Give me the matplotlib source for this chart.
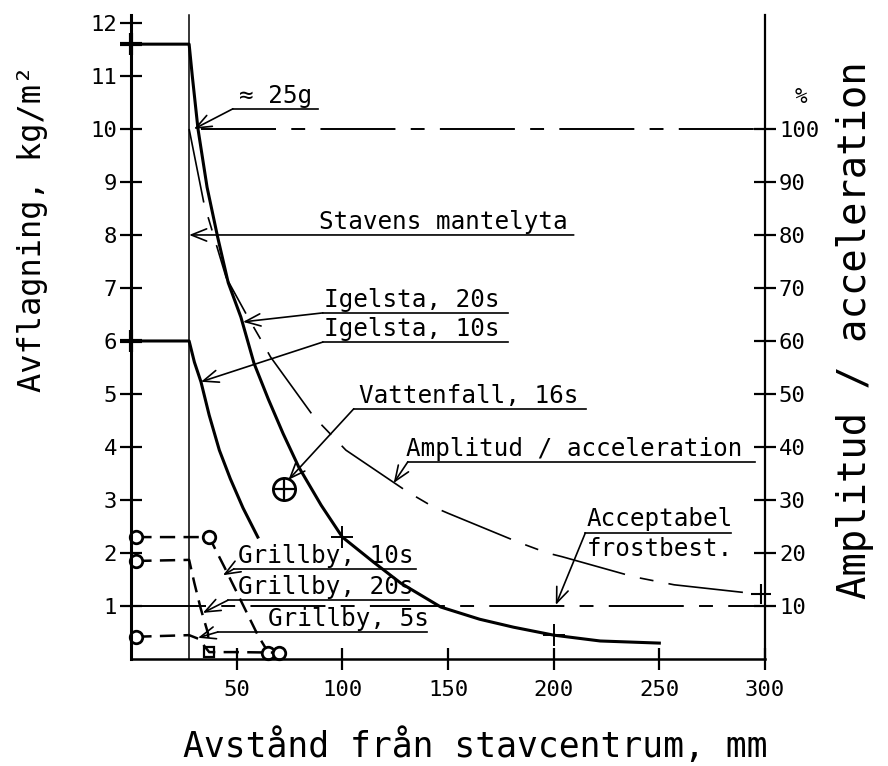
import matplotlib
matplotlib.use('Agg')
import matplotlib.pyplot as plt

plt.rcParams['font.family'] = ['DejaVu Sans Mono', 'DejaVu Sans']
plt.rcParams['lines.scale_dashes'] = False
plt.rcParams['lines.solid_joinstyle'] = 'round'

# radius of the rod (stavens mantelyta), mm
rod_x = 27.5

# Igelsta, 20s  (kg/m2 against distance from rod centre, mm)
igelsta20_x = [0, 27.5, 29, 31.7, 36, 41, 46, 52, 58.2, 65, 72, 79.4, 90, 100,
               115, 127.7, 146.6, 165, 181, 200, 222, 250]
igelsta20_y = [11.6, 11.6, 11.0, 10.0, 8.9, 7.96, 7.1, 6.45, 5.58, 4.9, 4.25, 3.62, 2.9, 2.3,
               1.82, 1.43, 0.98, 0.75, 0.6, 0.45, 0.34, 0.3]

# Igelsta, 10s
igelsta10_x = [0, 27.5, 30, 33.1, 37, 41.8, 47, 53, 60]
igelsta10_y = [6.0, 6.0, 5.6, 5.23, 4.6, 3.94, 3.4, 2.85, 2.3]

# Grillby series (dashed)
grillby10_x = [2.5, 37, 44, 52, 60, 65]
grillby10_y = [2.3, 2.3, 1.75, 1.1, 0.45, 0.12]
grillby20_x = [2.5, 27.5, 30, 33, 36.4, 37]
grillby20_y = [1.85, 1.87, 1.43, 0.95, 0.49, 0.13]
grillby5_x = [2.5, 27.5, 32, 37, 50, 70]
grillby5_y = [0.42, 0.45, 0.38, 0.13, 0.13, 0.12]

# Vattenfall, 16s (single point)
vattenfall_x = [72.5]
vattenfall_y = [3.2]

# amplitude / acceleration, %
ampl_x = [27.5, 34.5, 45, 55.3, 62.4, 66, 86.5, 101.7, 131, 143, 150, 183.5, 197,
          204, 238, 257, 298]
ampl_pct = [100, 86, 72, 64.5, 59.6, 57, 45.7, 39.4, 31.5, 28.7, 27.5, 22, 20,
            19.3, 15.5, 14, 12.2]

# reference levels, %
level_25g = 100
level_frost = 10

xticks = [50, 100, 150, 200, 250, 300]
yticks = list(range(1, 13))
pct_ticks = list(range(10, 101, 10))

phantom = (0, (54, 11, 10, 11))
grill_dash = (0, (11, 6))

fig = plt.figure(figsize=(8.88, 7.66), dpi=100)
ax = fig.add_axes([131/888, 1 - 659/766, (765 - 131)/888, (659 - 15)/766])
ax.set_xlim(0, 300)
ax.set_ylim(0, 12.15)
ax2 = ax.twinx()
ax2.set_ylim(0, 121.5)

for a in (ax, ax2):
    a.spines['top'].set_visible(False)
ax.spines['right'].set_visible(False)
ax2.spines['left'].set_visible(False)
ax.spines['left'].set_linewidth(2.2)
ax.spines['bottom'].set_linewidth(1.8)
ax2.spines['right'].set_linewidth(1.6)
ax2.spines['bottom'].set_visible(False)

ax.set_xticks(xticks)
ax.set_yticks(yticks)
ax2.set_yticks(pct_ticks)
ax.tick_params(axis='both', direction='inout', length=16, width=1.6, labelsize=16)
ax.tick_params(axis='y', pad=2)
ax.tick_params(axis='x', pad=7)
ax2.tick_params(axis='y', direction='inout', length=16, width=1.6, labelsize=16, pad=2)

# rod surface
ax.plot([rod_x, rod_x], [0, 12.15], color='k', lw=1.1, clip_on=False)

# reference levels on the percent scale
ax2.plot([33, 300], [level_25g, level_25g], color='k', lw=1.4, linestyle=phantom)
ax2.plot([0, 300], [level_frost, level_frost], color='k', lw=1.4, linestyle=phantom)

# amplitude / acceleration curve
ax2.plot(ampl_x, ampl_pct, color='k', lw=1.2, linestyle=phantom)
ax2.plot(ampl_x[-1:], ampl_pct[-1:], '+', color='k', ms=15, mew=1.5, clip_on=False)

# Igelsta curves
ax.plot(igelsta20_x, igelsta20_y, color='k', lw=2.2)
ax.plot(igelsta10_x, igelsta10_y, color='k', lw=2.2)
ax.plot([igelsta20_x[0], igelsta10_x[0]], [igelsta20_y[0], igelsta10_y[0]], '+',
        color='k', ms=16, mew=3, clip_on=False)
ax.plot([100, 200], [igelsta20_y[13], igelsta20_y[19]], '+', color='k', ms=16, mew=1.4)

# Grillby curves
circ = dict(marker='o', ms=9, mfc='white', mec='k', mew=2, clip_on=False)
ax.plot(grillby10_x, grillby10_y, color='k', lw=1.8, linestyle=grill_dash,
        markevery=[0, 1, 5], **circ)
ax.plot(grillby20_x, grillby20_y, color='k', lw=1.8, linestyle=grill_dash,
        markevery=[0], **circ)
ax.plot(grillby20_x[-1:], grillby20_y[-1:], 's', ms=7, mfc='white', mec='k', mew=1.6)
ax.plot(grillby5_x, grillby5_y, color='k', lw=1.8, linestyle=grill_dash,
        markevery=[0, 5], **circ)

# Vattenfall
ax.plot(vattenfall_x, vattenfall_y, 'o', ms=16, mfc='none', mec='k', mew=2)
ax.plot(vattenfall_x, vattenfall_y, '+', ms=16, mec='k', mew=1.6)

arrow = dict(arrowstyle='->,head_length=0.5,head_width=0.2', lw=1.2, color='k',
             shrinkA=0, shrinkB=0, mutation_scale=22)
fs = 17.5

# labels: text, text position, underline start/end, arrow tip
notes = [
    ('\u2248 25g', (51.1, 10.49), (48.2, 88.4, 10.38), (29.8, 10.0)),
    ('Igelsta, 20s', (91.3, 6.64), (90.8, 178.3, 6.53), (53.0, 6.36)),
    ('Igelsta, 10s', (91.3, 6.09), (90.8, 178.3, 5.98), (33.1, 5.23)),
    ('Vattenfall, 16s', (107.8, 4.83), (105.4, 215.1, 4.72), (74.5, 3.38)),
    ('Amplitud / acceleration', (130.0, 3.83), (131.0, 295.5, 3.72), (124.3, 3.32)),
    ('Acceptabel', (215.6, 2.51), (215.0, 283.7, 2.38), (201.0, 1.02)),
    ('Grillby, 10s', (50.6, 1.81), (48.7, 134.8, 1.70), (43.5, 1.58)),
    ('Grillby, 20s', (50.6, 1.23), (45.9, 131.4, 1.11), (34.0, 0.87)),
    ('Grillby, 5s', (64.8, 0.62), (41.1, 140.0, 0.51), (31.7, 0.40)),
]
for text, (tx, ty), (ux0, ux1, uy), tip in notes:
    ax.text(tx, ty, text, fontsize=fs, ha='left', va='baseline')
    ax.plot([ux0, ux1], [uy, uy], color='k', lw=1.2)
    ax.annotate('', xy=tip, xytext=(ux0, uy), arrowprops=arrow)

ax.text(215.6, 1.94, 'frostbest.', fontsize=fs, ha='left', va='baseline')

ax.text(88.9, 8.12, 'Stavens mantelyta', fontsize=fs, ha='left', va='baseline')
ax.annotate('', xy=(rod_x, 8.0), xytext=(209.5, 8.0), arrowprops=arrow)

ax.text(316.8, 10.6, '%', fontsize=15, ha='center', va='center', clip_on=False)

fig.text(0.037, 0.702, 'Avflagning, kg/m\u00b2', rotation=90, fontsize=23,
         ha='center', va='center')
fig.text(0.535, 0.027, 'Avst\u00e5nd fr\u00e5n stavcentrum, mm', fontsize=25,
         ha='center', va='center')
fig.text(0.963, 0.569, 'Amplitud / acceleration', rotation=90, fontsize=28,
         ha='center', va='center')

fig.savefig('out.png', dpi=100)
